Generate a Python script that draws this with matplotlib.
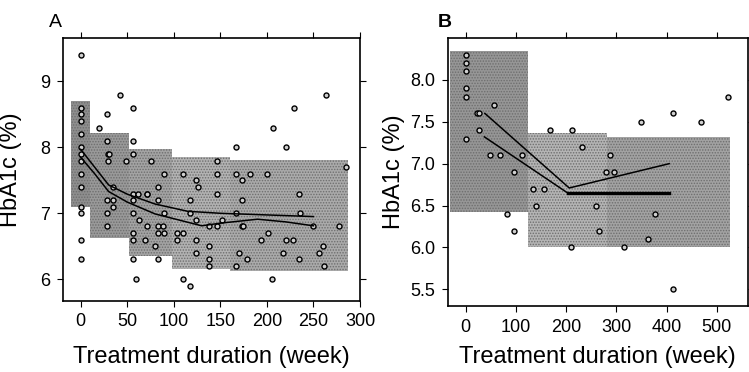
import numpy as np
import matplotlib
matplotlib.use("Agg")
import matplotlib.pyplot as plt

plt.rcParams["font.family"] = ["Liberation Sans", "DejaVu Sans"]
plt.rcParams["hatch.linewidth"] = 0.7

# ---- panel A data ----
a_x = [0, 0, 0, 0, 0, 0, 0, 0, 0, 0, 0, 0, 0, 0,
       20, 28, 28, 29, 29, 28, 28, 28, 30, 35, 35, 35, 42, 49,
       56, 56, 56, 56, 56, 56, 56, 56, 56, 59, 62, 63, 69, 71, 71, 71,
       76, 80, 83, 83, 83, 83, 88, 83, 90, 90, 90, 103, 103, 110, 110, 110,
       117, 117, 117, 124, 126, 124, 124, 124, 138, 138, 138, 138,
       146, 146, 146, 146, 152, 167, 167, 167, 167, 170, 173, 173, 173, 174,
       179, 182, 194, 200, 201, 206, 207, 217, 221, 221, 228, 229,
       235, 236, 235, 250, 256, 260, 261, 264, 278, 285]
a_y = [9.4, 8.6, 8.5, 8.4, 8.2, 8.0, 7.9, 7.8, 7.6, 7.4, 7.1, 7.0, 6.6, 6.3,
       8.3, 8.5, 8.1, 7.9, 7.8, 7.2, 7.0, 6.8, 7.9, 7.4, 7.2, 7.1, 8.8, 7.8,
       8.6, 8.1, 7.9, 7.3, 7.2, 7.0, 6.7, 6.6, 6.3, 6.0, 7.3, 6.9, 6.6, 7.3, 7.3, 6.8,
       7.8, 6.5, 7.4, 7.2, 6.7, 6.8, 6.8, 6.3, 7.0, 7.6, 6.7, 6.7, 6.6, 6.7, 7.6, 6.0,
       5.9, 7.2, 7.0, 7.5, 7.4, 6.9, 6.6, 6.4, 6.5, 6.8, 6.3, 6.2,
       7.8, 7.6, 7.3, 6.8, 6.9, 8.0, 7.6, 7.0, 6.2, 6.4, 7.5, 7.2, 6.8, 6.8,
       6.3, 7.6, 6.6, 7.6, 6.7, 6.0, 8.3, 6.4, 8.0, 6.6, 6.6, 8.6,
       7.3, 7.0, 6.3, 6.8, 6.4, 6.5, 6.2, 8.8, 6.8, 7.7]

a_upper_x = [0, 15, 30, 50, 80, 115, 150, 190, 250]
a_upper_y = [7.97, 7.70, 7.43, 7.29, 7.14, 7.03, 7.00, 6.98, 6.95]
a_lower_x = [0, 15, 30, 50, 80, 105, 130, 150, 190, 220, 250]
a_lower_y = [7.85, 7.60, 7.33, 7.17, 6.99, 6.90, 6.81, 6.85, 6.91, 6.87, 6.81]

# shaded ranges: x start, x end, y low, y high
a_box_x0 = [-10, 10, 52, 98, 160]
a_box_x1 = [10, 52, 98, 160, 287]
a_box_y0 = [7.10, 6.63, 6.35, 6.16, 6.13]
a_box_y1 = [8.70, 8.22, 7.98, 7.86, 7.81]

# ---- panel B data ----
b_x = [0, 0, 0, 0, 0, 0, 22, 27, 27, 56, 48, 69, 83, 97, 97, 112, 133, 140, 156, 168,
       210, 211, 231, 259, 266, 280, 287, 295, 316, 349, 363, 377, 412, 412, 468, 523]
b_y = [8.3, 8.2, 8.1, 7.9, 7.8, 7.3, 7.6, 7.6, 7.4, 7.7, 7.1, 7.1, 6.4, 6.9, 6.2, 7.1, 6.7, 6.5, 6.7, 7.4,
       6.0, 7.4, 7.2, 6.5, 6.2, 6.9, 7.1, 6.9, 6.0, 7.5, 6.1, 6.4, 7.6, 5.5, 7.5, 7.8]

b_upper_x = [38, 206, 405]
b_upper_y = [7.60, 6.71, 7.00]
b_lower_x = [37, 203, 405]
b_lower_y = [7.32, 6.65, 6.65]

b_box_x0 = [-32, 123, 282]
b_box_x1 = [123, 282, 527]
b_box_y0 = [6.42, 6.00, 6.00]
b_box_y1 = [8.35, 7.36, 7.32]

fig = plt.figure(figsize=(7.49, 3.72), dpi=100)
axA = fig.add_axes([0.0841, 0.191, 0.3965, 0.707])
axB = fig.add_axes([0.5977, 0.177, 0.401, 0.721])


def shade(ax, x0s, x1s, y0s, y1s, greys):
    for x0, x1, y0, y1, g in zip(x0s, x1s, y0s, y1s, greys):
        ax.fill_between([x0, x1], y0, y1, facecolor=g, edgecolor="#6e6e6e",
                        hatch="......", linewidth=0, zorder=1)


def style(ax):
    ax.tick_params(axis="both", which="both", direction="out", length=4,
                   width=0.8, labelsize=13, top=True, right=True,
                   labeltop=False, labelright=False, pad=5)
    for s in ax.spines.values():
        s.set_linewidth(1.2)
    ax.set_xlabel("Treatment duration (week)", fontsize=17)
    ax.set_ylabel("HbA1c (%)", fontsize=17)


# panel A
shade(axA, a_box_x0, a_box_x1, a_box_y0, a_box_y1,
      ["#8e8e8e", "#999999", "#a3a3a3", "#b2b2b2", "#aaaaaa"])
axA.plot(a_x, a_y, "o", ms=3.6, mfc="#d0d0d0", mec="black", mew=1.0, zorder=3)
axA.plot(a_upper_x, a_upper_y, color="black", lw=1.1, zorder=4)
axA.plot(a_lower_x, a_lower_y, color="black", lw=1.1, zorder=4)
axA.set_xlim(-19, 300)
axA.set_ylim(5.67, 9.66)
axA.set_xticks([0, 50, 100, 150, 200, 250, 300])
axA.set_yticks([6, 7, 8, 9])
style(axA)
axA.yaxis.set_label_coords(-0.138, 0.5)
axA.xaxis.set_label_coords(0.5, -0.17)

# panel B
shade(axB, b_box_x0, b_box_x1, b_box_y0, b_box_y1,
      ["#969696", "#b4b4b4", "#a2a2a2"])
axB.plot(b_x, b_y, "o", ms=3.6, mfc="#d0d0d0", mec="black", mew=1.0, zorder=3)
axB.plot(b_upper_x, b_upper_y, color="black", lw=1.1, zorder=4)
axB.plot(b_lower_x, b_lower_y, color="black", lw=1.1, zorder=4)
axB.plot(b_lower_x[1:], b_lower_y[1:], color="black", lw=2.4, zorder=4)
axB.set_xlim(-36, 562)
axB.set_ylim(5.30, 8.50)
axB.set_xticks([0, 100, 200, 300, 400, 500])
axB.set_yticks([5.5, 6.0, 6.5, 7.0, 7.5, 8.0])
axB.yaxis.set_major_formatter(matplotlib.ticker.FormatStrFormatter("%.1f"))
style(axB)
axB.yaxis.set_label_coords(-0.142, 0.5)
axB.xaxis.set_label_coords(0.5, -0.15)

fig.text(0.066, 0.918, "A", fontsize=14, ha="left", va="bottom")
fig.text(0.585, 0.918, "B", fontsize=14, ha="left", va="bottom", fontweight="bold")

fig.savefig("out.png", dpi=100)
